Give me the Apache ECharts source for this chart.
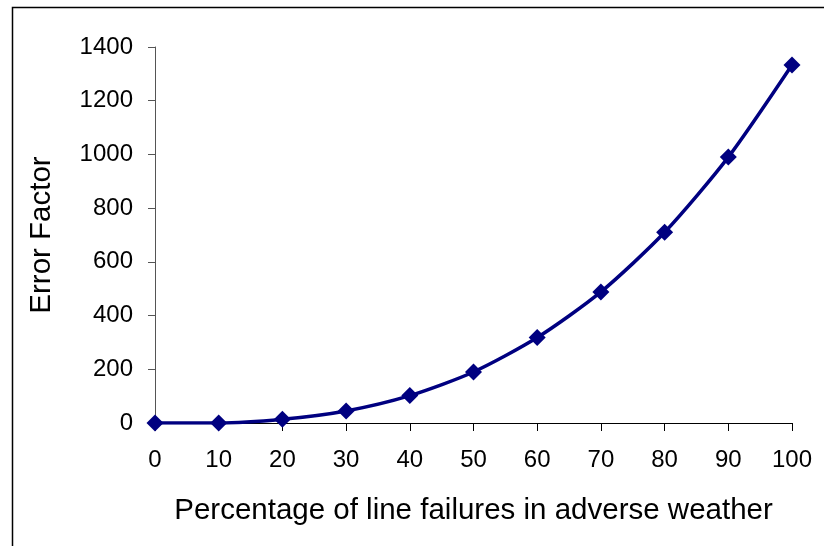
<!DOCTYPE html>
<html>
<head>
<meta charset="utf-8">
<script src="https://cdn.jsdelivr.net/npm/echarts@6/dist/echarts.min.js"></script>
<style>html,body{margin:0;padding:0;background:#fff}#c{width:824px;height:546px}</style>
</head>
<body>
<div id="c"></div>
<script>
const xValues = [0, 10, 20, 30, 40, 50, 60, 70, 80, 90, 100];
const errorFactor = [0, 0, 14, 45, 102, 190, 318, 488, 710, 990, 1333];
const xTitle = 'Percentage of line failures in adverse weather';
const yTitle = 'Error Factor';

const chart = echarts.init(document.getElementById('c'));
const font = 'Liberation Sans, Arial, sans-serif';
chart.setOption({
  animation: false,
  backgroundColor: '#fff',
  graphic: [{
    type: 'rect', left: 10, top: 5,
    shape: { width: 900, height: 600 },
    style: { fill: 'none', stroke: '#000', lineWidth: 1.5 }
  }],
  grid: { left: 155, right: 32, top: 47, bottom: 123, containLabel: false },
  xAxis: {
    type: 'value', min: 0, max: 100, interval: 10,
    name: xTitle, nameLocation: 'middle', nameGap: 73,
    nameTextStyle: { fontFamily: font, fontSize: 29.5, color: '#000' },
    axisLine: { show: true, onZero: false, lineStyle: { color: '#000', width: 1 } },
    axisTick: { show: true, length: 8, lineStyle: { color: '#000' } },
    axisLabel: { fontFamily: font, fontSize: 24, color: '#000', margin: 25, formatter: v => String(v) },
    splitLine: { show: false }
  },
  yAxis: {
    type: 'value', min: 0, max: 1400, interval: 200,
    name: yTitle, nameLocation: 'middle', nameGap: 98,
    nameTextStyle: { fontFamily: font, fontSize: 29.5, color: '#000' },
    axisLine: { show: true, lineStyle: { color: '#555', width: 1 } },
    axisTick: { show: true, length: 7, lineStyle: { color: '#555' } },
    axisLabel: { fontFamily: font, fontSize: 24, color: '#000', margin: 22, formatter: v => String(v) },
    splitLine: { show: false }
  },
  series: [{
    type: 'line',
    data: xValues.map((x, i) => [x, errorFactor[i]]),
    smooth: 0.25,
    symbol: 'diamond', symbolSize: 17,
    lineStyle: { color: '#000080', width: 3.5 },
    itemStyle: { color: '#000080' }
  }]
});
</script>
</body>
</html>
